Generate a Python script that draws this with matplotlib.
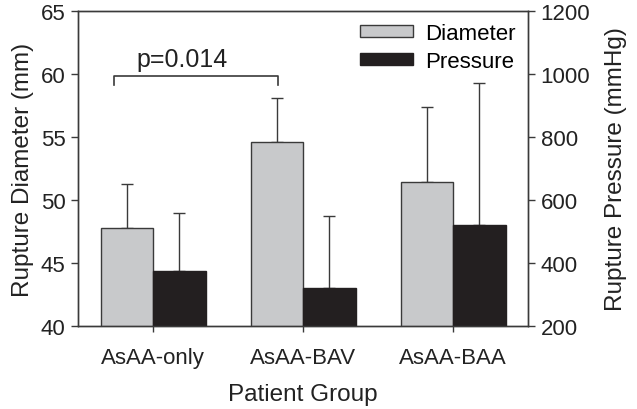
import matplotlib.pyplot as plt
import numpy as np

plt.rcParams['font.family'] = ['Liberation Sans', 'DejaVu Sans']

groups = ["AsAA-only", "AsAA-BAV", "AsAA-BAA"]
diameter = [47.8, 54.6, 51.4]
diameter_sd = [3.5, 3.5, 6.0]
pressure = [375, 320, 522]
pressure_sd = [184, 230, 450]

gray = "#c8c9cb"
black = "#231f20"
edge = "#3a3a3a"
txt = "#222222"

fig = plt.figure(figsize=(6.37, 4.10), dpi=100)
ax = fig.add_axes([0.1225, 0.2024, 0.7065, 0.7683])
ax2 = ax.twinx()

x = np.arange(len(groups))
w = 0.35

ax.bar(x - w / 2, diameter, w, color=gray, edgecolor=edge, linewidth=1.0,
       label="Diameter", zorder=2)
ax.errorbar(x - w / 2, diameter, yerr=[np.zeros(3), diameter_sd], fmt="none",
            ecolor=edge, elinewidth=1.0, capsize=4, capthick=1.0, zorder=1)
ax2.bar(x + w / 2, pressure, w, color=black, edgecolor=black, linewidth=1.0,
        label="Pressure", zorder=2)
ax2.errorbar(x + w / 2, pressure, yerr=[np.zeros(3), pressure_sd], fmt="none",
             ecolor=edge, elinewidth=1.0, capsize=4, capthick=1.0, zorder=1)

ax.set_xlim(-0.5, 2.5)
ax.set_ylim(40, 65)
ax2.set_ylim(200, 1200)
ax.set_xticks(x)
ax.set_xticklabels(groups)
ax.set_yticks([40, 45, 50, 55, 60, 65])
ax2.set_yticks([200, 400, 600, 800, 1000, 1200])

for a in (ax, ax2):
    for s in a.spines.values():
        s.set_color(edge)
        s.set_linewidth(1.0)
    a.tick_params(colors=edge, labelcolor=txt, labelsize=16,
                  length=5, width=1.0, pad=4)
ax.tick_params(axis="x", length=4, pad=11)

ax.set_ylabel("Rupture Diameter (mm)", fontsize=17.5, color=txt, labelpad=5)
ax2.set_ylabel("Rupture Pressure (mmHg)", fontsize=17.5, color=txt, labelpad=11)
ax.set_xlabel("Patient Group", fontsize=17.5, color=txt, labelpad=11)

# significance bracket
bx0, bx1, by, bd = -0.26, 0.83, 59.85, 0.7
ax.plot([bx0, bx0, bx1, bx1], [by - bd, by, by, by - bd], color=edge, lw=1.2)
ax.text((bx0 + bx1) / 2 - 0.09, by + 0.35, "p=0.014", ha="center", va="bottom",
        fontsize=18, color=txt)

h1, l1 = ax.get_legend_handles_labels()
h2, l2 = ax2.get_legend_handles_labels()
ax2.legend(h1 + h2, l1 + l2, loc="upper right", frameon=False, fontsize=16,
           handlelength=2.4, handleheight=0.45, borderaxespad=0.15,
           labelspacing=0.3, handletextpad=0.55)

fig.savefig("out.png", dpi=100)
